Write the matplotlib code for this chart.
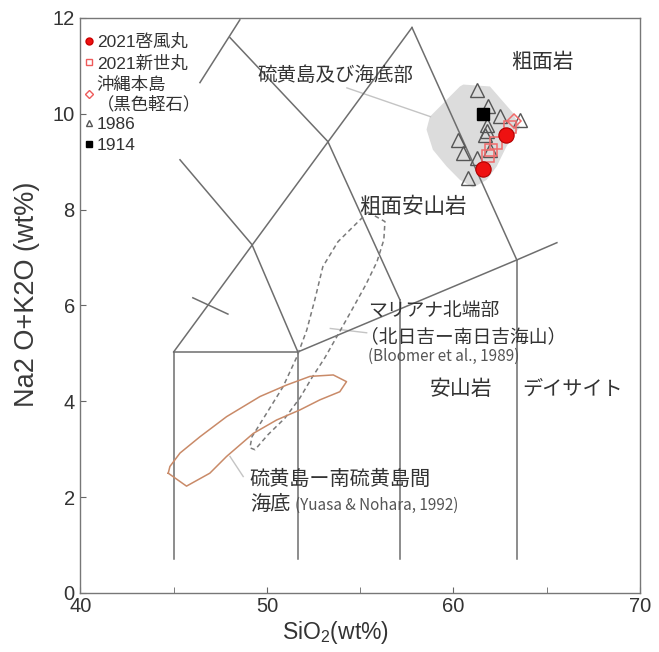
from matplotlib import pyplot as plt
from matplotlib.lines import Line2D
from matplotlib.patches import Polygon

plt.rcParams['font.family'] = ['Liberation Sans', 'Noto Sans CJK JP', 'DejaVu Sans']
JP = ['Noto Sans CJK JP', 'DejaVu Sans']

# TAS field boundaries as (SiO2, Na2O+K2O) polylines
tas_sio2 = [
    [45.0, 45.0], [45.0, 51.66], [51.66, 51.66], [57.13, 57.13], [63.4, 63.4],
    [51.66, 63.4, 65.55], [45.0, 57.78], [57.78, 63.4], [48.02, 53.27, 57.13],
    [45.34, 49.2, 51.66], [46.41, 48.55], [46.03, 47.91],
]
tas_alk = [
    [0.7, 5.03], [5.03, 5.03], [0.7, 5.03], [0.7, 6.12], [0.7, 6.95],
    [5.03, 6.95, 7.31], [5.03, 11.8], [11.8, 6.95], [11.59, 9.42, 6.12],
    [9.04, 7.27, 5.03], [10.65, 11.96], [6.16, 5.82],
]

# 硫黄島及び海底部 field (gray)
iwo_sio2 = [60.53, 61.96, 63.19, 63.57, 62.85, 62.32, 61.78, 61.05, 60.35, 59.64,
            58.90, 58.56, 58.74, 59.28, 59.81, 60.35]
iwo_alk = [10.61, 10.57, 10.02, 9.73, 9.32, 8.90, 8.62, 8.46, 8.62, 8.90,
           9.25, 9.67, 9.94, 10.15, 10.36, 10.57]

# マリアナ北端部 field (dashed)
mariana_sio2 = [55.42, 56.33, 56.27, 55.9, 55.3, 54.56, 53.81, 53.11, 52.41, 51.77,
                50.97, 50.05, 49.36, 49.09, 49.20, 50.0, 50.86, 51.61, 52.14, 52.57,
                53.0, 53.81, 54.72, 55.42]
mariana_alk = [7.95, 7.75, 7.37, 6.91, 6.43, 5.91, 5.39, 4.91, 4.49, 4.07,
               3.65, 3.30, 2.99, 3.03, 3.26, 3.76, 4.30, 4.93, 5.49, 6.12,
               6.81, 7.33, 7.68, 7.95]

# 硫黄島ー南硫黄島間海底 field (orange)
yuasa_sio2 = [44.71, 45.69, 46.94, 47.84, 49.27, 50.52, 51.77, 52.84, 53.91, 54.27,
              53.56, 52.31, 51.06, 49.63, 47.84, 46.41, 45.34, 44.80, 44.71]
yuasa_alk = [2.50, 2.23, 2.50, 2.85, 3.33, 3.61, 3.82, 4.03, 4.20, 4.41,
             4.55, 4.52, 4.34, 4.10, 3.68, 3.26, 2.92, 2.64, 2.50]

# samples
keifu_sio2 = [62.82, 61.57]
keifu_alk = [9.56, 8.85]
shinsei_sio2 = [63.05, 62.3, 62.0, 61.85]
shinsei_alk = [9.72, 9.38, 9.25, 9.12]
okinawa_sio2 = [63.25]
okinawa_alk = [9.85]
s1986_sio2 = [61.27, 61.87, 62.49, 63.57, 60.26, 60.53, 61.24, 60.79, 61.78, 61.78,
              61.69, 61.96]
s1986_alk = [10.49, 10.16, 9.96, 9.87, 9.46, 9.19, 9.07, 8.66, 9.77, 9.65,
             9.56, 9.25]
s1914_sio2 = [61.6]
s1914_alk = [10.0]

fig = plt.figure(figsize=(6.59, 6.52), dpi=100)
ax = fig.add_axes([0.122, 0.0905, 0.849, 0.882])
ax.set_xlim(40, 70)
ax.set_ylim(0, 12)

line_c = '#6e6e6e'
for xs, ys in zip(tas_sio2, tas_alk):
    ax.plot(xs, ys, color=line_c, lw=1.1, zorder=2)

ax.add_patch(Polygon(list(zip(iwo_sio2, iwo_alk)), closed=True, fc='#dcdcdc', ec='none', zorder=1))
ax.plot(mariana_sio2, mariana_alk, color='#7a7a7a', lw=1.1, ls=(0, (3, 2.2)), zorder=3)
ax.plot(yuasa_sio2, yuasa_alk, color='#c98a68', lw=1.1, zorder=3)

# leader lines
lead_c = '#c4c4c4'
ax.plot([54.29, 58.77], [10.54, 9.94], color=lead_c, lw=1, zorder=1)
ax.plot([53.4, 55.35], [5.52, 5.43], color=lead_c, lw=1, zorder=1)
ax.plot([48.02, 48.73], [2.85, 2.43], color=lead_c, lw=1, zorder=1)

ax.plot(s1986_sio2, s1986_alk, ls='none', marker='^', ms=9.5, mfc='none', mec='#555555', mew=1, zorder=4)
ax.plot(s1914_sio2, s1914_alk, ls='none', marker='s', ms=8, mfc='black', mec='black', zorder=5)
ax.plot(shinsei_sio2, shinsei_alk, ls='none', marker='s', ms=8.5, mfc='none', mec='#f06a6a', mew=1.1, zorder=5)
ax.plot(okinawa_sio2, okinawa_alk, ls='none', marker='D', ms=7.5, mfc='none', mec='#f06a6a', mew=1.1, zorder=5)
ax.plot(keifu_sio2, keifu_alk, ls='none', marker='o', ms=11, mfc='#ee1111', mec='#b00000', mew=0.8, zorder=6)

txt_c = '#333333'
ax.text(64.8, 11.09, '粗面岩', family=JP, fontsize=15, color=txt_c, ha='center', va='center')
ax.text(49.5, 10.81, '硫黄島及び海底部', family=JP, fontsize=14, color=txt_c, va='center')
ax.text(54.95, 8.06, '粗面安山岩', family=JP, fontsize=15.5, color=txt_c, va='center')
ax.text(55.4, 5.89, 'マリアナ北端部', family=JP, fontsize=13.5, color=txt_c, va='center')
ax.text(55.0, 5.35, '（北日吉ー南日吉海山）', family=JP, fontsize=13.5, color=txt_c, va='center')
ax.text(55.4, 4.93, '(Bloomer et al., 1989)', family=JP, fontsize=11, color='#555555', va='center')
ax.text(58.74, 4.26, '安山岩', family=JP, fontsize=15, color=txt_c, va='center')
ax.text(63.7, 4.26, 'デイサイト', family=JP, fontsize=14.5, color=txt_c, va='center')
ax.text(49.09, 2.36, '硫黄島ー南硫黄島間', family=JP, fontsize=14.5, color=txt_c, va='center')
ax.text(49.09, 1.85, '海底', family=JP, fontsize=14.5, color=txt_c, va='center')
ax.text(51.5, 1.83, '(Yuasa & Nohara, 1992)', family=JP, fontsize=11, color='#555555', va='center')

handles = [
    Line2D([], [], ls='none', marker='o', ms=5, mfc='#ee1111', mec='#cc0000'),
    Line2D([], [], ls='none', marker='s', ms=4.5, mfc='none', mec='#ee5a5a'),
    Line2D([], [], ls='none', marker='D', ms=4, mfc='none', mec='#ee5a5a'),
    Line2D([], [], ls='none', marker='^', ms=5, mfc='none', mec='#555555'),
    Line2D([], [], ls='none', marker='s', ms=5, mfc='black', mec='black'),
]
labels = ['2021啓風丸', '2021新世丸', '沖縄本島\n（黒色軽石）', '1986', '1914']
ax.legend(handles, labels, loc='upper left', bbox_to_anchor=(-0.005, 0.985), frameon=False,
          handlelength=0.5, handletextpad=0.2, borderaxespad=0.2, borderpad=0.2,
          labelspacing=0.3, prop={'size': 12.5}, labelcolor=txt_c)

ax.set_xticks([40, 50, 60, 70])
ax.set_xticks([45, 55, 65], minor=True)
ax.set_yticks([0, 2, 4, 6, 8, 10, 12])
ax.tick_params(which='both', direction='in', length=4, color='#666666', labelsize=14.5,
               labelcolor='#333333')
ax.tick_params(axis='x', pad=3)
ax.tick_params(axis='y', pad=4)
for s in ax.spines.values():
    s.set_color('#777777')
    s.set_linewidth(1)

ax.set_xlabel(r'SiO$_\mathregular{2}$(wt%)', fontsize=16.5, color='#333333')
ax.xaxis.set_label_coords(0.455, -0.045)
ax.set_ylabel('Na2 O+K2O (wt%)', fontsize=19.5, color='#3a3a3a')
ax.yaxis.set_label_coords(-0.072, 0.52)

fig.savefig('out.png', dpi=100)
